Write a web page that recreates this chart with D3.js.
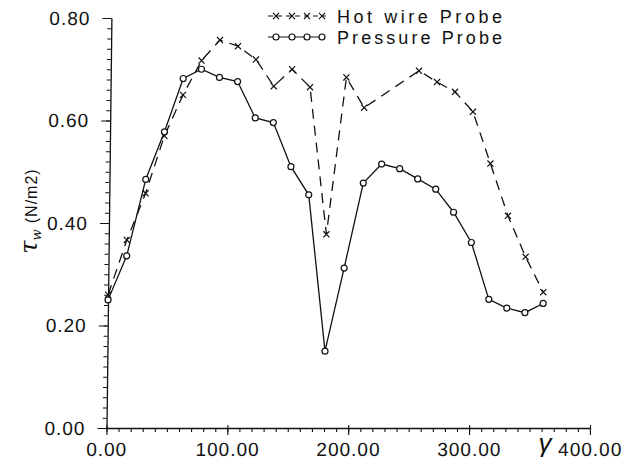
<!DOCTYPE html>
<html>
<head>
<meta charset="utf-8">
<script src="https://cdn.jsdelivr.net/npm/d3@7"></script>
<style>
  html, body { margin: 0; padding: 0; background: #fff; }
  svg { display: block; }
  text { font-family: "Liberation Sans", Arial, sans-serif; fill: #111; }
</style>
</head>
<body>
<svg id="chart" width="631" height="464"></svg>
<script>
// Angular position around the cylinder (degrees)
const angles = [0, 15, 30, 45, 60, 75, 90, 105, 120, 135, 150, 165, 180,
                195, 210, 225, 240, 255, 270, 285, 300, 315, 330, 345, 360];

// Wall shear stress from the pressure probe (N/m2)
const pressureProbe = [0.250, 0.336, 0.485, 0.578, 0.682, 0.700, 0.684, 0.676, 0.605,
                       0.596, 0.510, 0.455, 0.150, 0.312, 0.478, 0.515, 0.506, 0.486,
                       0.466, 0.421, 0.362, 0.251, 0.234, 0.225, 0.243];

// Hot wire probe stations and readings (N/m2)
const hotWireAngles = [0, 15, 30, 45, 60, 75, 90, 105, 120, 135, 150, 165, 180,
                       195, 210, 255, 270, 285, 300, 315, 330, 345, 360];
const hotWireProbe = [0.260, 0.367, 0.458, 0.570, 0.650, 0.717, 0.757, 0.745, 0.719,
                      0.667, 0.700, 0.665, 0.378, 0.684, 0.625, 0.697, 0.675, 0.656,
                      0.617, 0.516, 0.414, 0.334, 0.265];

// Axis ticks
const xMajorTicks = [0, 100, 200, 300, 400];
const yMajorTicks = [0.0, 0.2, 0.4, 0.6, 0.8];

const seriesNames = ["Hot wire  Probe", "Pressure  Probe"];

const svg = d3.select("#chart");
const ink = "#111";

const x = d3.scaleLinear().domain([0, 400]).range([106.5, 590]);
const y = d3.scaleLinear().domain([0, 0.8]).range([428, 18]);

// The plotted frame leans slightly to the right towards the top
const lean = 0.012;
const plot = svg.append("g")
  .attr("transform", `matrix(1,0,${-lean},1,${lean * y(0)},0)`);

// ---- axes ----
const fmt = d3.format(".2f");
const yMinor = d3.range(0, 0.8001, 0.02).map(v => +v.toFixed(2));
const xMinor = d3.range(0, 400.1, 10);

const gy = plot.append("g").attr("transform", `translate(${x(0)},0)`);
gy.call(d3.axisLeft(y).tickValues(yMinor).tickSize(4).tickSizeOuter(0).tickFormat(""));
gy.selectAll(".tick line").attr("stroke", ink).attr("stroke-width", 1.1);
gy.select(".domain").attr("stroke", ink).attr("stroke-width", 1.3);

const gyMaj = plot.append("g").attr("transform", `translate(${x(0)},0)`);
gyMaj.call(d3.axisLeft(y).tickValues(yMajorTicks).tickSize(9).tickSizeOuter(0).tickPadding(12).tickFormat(fmt));
gyMaj.select(".domain").remove();
gyMaj.selectAll(".tick line").attr("stroke", ink).attr("stroke-width", 1.1);
gyMaj.selectAll(".tick text")
  .attr("font-size", 19).attr("letter-spacing", 1).attr("fill", ink)
  .style("font-family", "'Liberation Sans', Arial, sans-serif");

const gx = plot.append("g").attr("transform", `translate(0,${y(0)})`);
gx.call(d3.axisBottom(x).tickValues(xMinor).tickSize(4).tickSizeOuter(0).tickFormat(""));
gx.selectAll(".tick line").attr("stroke", ink).attr("stroke-width", 1.1);
gx.select(".domain").attr("stroke", ink).attr("stroke-width", 1.3);

const gxMaj = plot.append("g").attr("transform", `translate(0,${y(0)})`);
gxMaj.call(d3.axisBottom(x).tickValues(xMajorTicks).tickSize(7).tickSizeOuter(0).tickPadding(8).tickFormat(fmt));
gxMaj.select(".domain").remove();
gxMaj.selectAll(".tick line").attr("stroke", ink).attr("stroke-width", 1.1).attr("y1", -3);
gxMaj.selectAll(".tick text")
  .attr("font-size", 19).attr("letter-spacing", 1).attr("fill", ink)
  .style("font-family", "'Liberation Sans', Arial, sans-serif");

// ---- series ----
const pressureData = angles.map((a, i) => ({ a, v: pressureProbe[i] }));
const hotWireData = hotWireAngles.map((a, i) => ({ a, v: hotWireProbe[i] }));

const line = d3.line().x(d => x(d.a)).y(d => y(d.v));

plot.append("path")
  .datum(hotWireData)
  .attr("d", line)
  .attr("fill", "none").attr("stroke", ink).attr("stroke-width", 1.3)
  .attr("stroke-dasharray", "10,7");

plot.append("path")
  .datum(pressureData)
  .attr("d", line)
  .attr("fill", "none").attr("stroke", ink).attr("stroke-width", 1.3);

const cross = d3.symbol(d3.symbolTimes, 26);

plot.append("g").selectAll("path")
  .data(hotWireData).join("path")
  .attr("transform", d => `translate(${x(d.a)},${y(d.v)})`)
  .attr("d", cross)
  .attr("fill", "none").attr("stroke", ink).attr("stroke-width", 1.2);

plot.append("g").selectAll("circle")
  .data(pressureData).join("circle")
  .attr("cx", d => x(d.a)).attr("cy", d => y(d.v)).attr("r", 3)
  .attr("fill", "#fff").attr("stroke", ink).attr("stroke-width", 1.2);

// ---- axis titles ----
const yTitle = svg.append("text")
  .attr("transform", "translate(37,211) rotate(-90)")
  .attr("text-anchor", "middle")
  .attr("fill", ink);
yTitle.append("tspan")
  .attr("font-family", "'DejaVu Serif', serif").attr("font-style", "italic")
  .attr("fill", ink).attr("font-size", 24).text("\u03c4");
yTitle.append("tspan")
  .attr("font-family", "'DejaVu Serif', serif").attr("font-style", "italic")
  .attr("fill", ink).attr("font-size", 13).attr("dy", 4).text("w");
yTitle.append("tspan")
  .attr("fill", ink).attr("font-size", 16).attr("dy", -4).attr("dx", 6)
  .attr("letter-spacing", 1).text("(N/m2)");

svg.append("text")
  .attr("x", 545).attr("y", 452)
  .attr("text-anchor", "middle")
  .attr("font-family", "'DejaVu Serif', serif").attr("font-style", "italic")
  .attr("fill", ink).attr("font-size", 26).text("\u03b3");

// ---- legend ----
const legend = svg.append("g");
const legendMarks = [276, 292, 307, 322];
legend.append("line")
  .attr("x1", 268).attr("x2", 326).attr("y1", 16).attr("y2", 16)
  .attr("stroke", ink).attr("stroke-width", 1.2).attr("stroke-dasharray", "5,4");
legend.selectAll("path.lm").data(legendMarks).join("path")
  .attr("class", "lm")
  .attr("transform", d => `translate(${d},16)`)
  .attr("d", cross)
  .attr("fill", "none").attr("stroke", ink).attr("stroke-width", 1.2);
legend.append("line")
  .attr("x1", 268).attr("x2", 322).attr("y1", 37).attr("y2", 37)
  .attr("stroke", ink).attr("stroke-width", 1.2);
legend.selectAll("circle").data(legendMarks).join("circle")
  .attr("cx", d => d).attr("cy", 37).attr("r", 3)
  .attr("fill", "#fff").attr("stroke", ink).attr("stroke-width", 1.2);

legend.selectAll("text").data(seriesNames).join("text")
  .attr("x", 337).attr("y", (d, i) => 23 + i * 21)
  .attr("font-size", 18)
  .attr("textLength", 165).attr("lengthAdjust", "spacing")
  .attr("fill", ink)
  .text(d => d);
</script>
</body>
</html>
